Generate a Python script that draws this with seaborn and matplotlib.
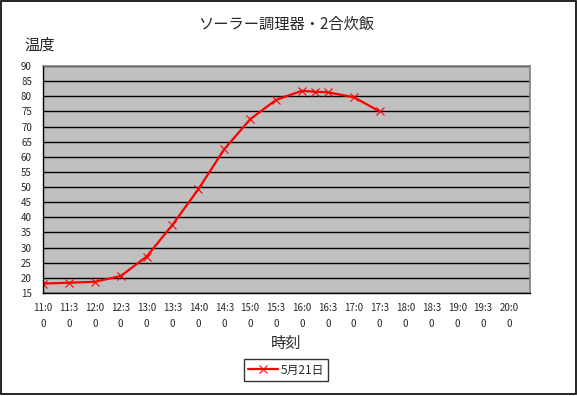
import matplotlib
matplotlib.use("Agg")
import matplotlib.pyplot as plt
from matplotlib.patches import Rectangle
import pandas as pd
import seaborn as sns

# データ
times = ["11:00", "11:30", "12:00", "12:30", "13:00", "13:30", "14:00", "14:30",
         "15:00", "15:30", "16:00", "16:15", "16:30", "17:00", "17:30"]
temps = [18.1, 18.4, 18.7, 20.6, 27.0, 37.5, 49.3, 62.5,
         72.4, 78.8, 81.8, 81.5, 81.3, 79.7, 75.0]
tick_times = ["11:00", "11:30", "12:00", "12:30", "13:00", "13:30", "14:00", "14:30",
              "15:00", "15:30", "16:00", "16:30", "17:00", "17:30", "18:00", "18:30",
              "19:00", "19:30", "20:00"]
yticks = list(range(15, 95, 5))
series_name = "5月21日"


def to_hours(t):
    h, m = t.split(":")
    return int(h) + int(m) / 60


df = pd.DataFrame({"hour": [to_hours(t) for t in times], "temp": temps})

sns.set_style("white")
plt.rcParams["font.family"] = ["Noto Sans CJK JP", "DejaVu Sans"]

fig = plt.figure(figsize=(5.77, 3.96), dpi=100)
ax = fig.add_axes([43 / 577, 1 - 293 / 396, 487 / 577, 227 / 396])
ax.set_facecolor("#C0C0C0")

sns.lineplot(data=df, x="hour", y="temp", color="red", linewidth=1.6,
             marker="x", markersize=5.5, markeredgewidth=0.8, markeredgecolor="red",
             label=series_name, ax=ax)

# 軸の設定
ax.set_xlim(11, 20.405)
ax.set_ylim(15, 90)
ax.set_yticks(yticks)
ax.set_yticklabels([str(v) for v in yticks], fontsize=7)
ax.set_xticks([to_hours(t) for t in tick_times])
ax.set_xticklabels([t[:4] + "\n" + t[4:] for t in tick_times], fontsize=7, linespacing=1.75)
ax.tick_params(axis="x", length=3, width=0.8, color="black", pad=4, direction="out")
ax.tick_params(axis="y", length=0, pad=8)
ax.set_xlabel("")
ax.set_ylabel("")

ax.yaxis.grid(True, color="black", linewidth=1)
ax.xaxis.grid(False)
for side in ["left", "bottom"]:
    ax.spines[side].set_color("black")
    ax.spines[side].set_linewidth(1)
for side in ["top", "right"]:
    ax.spines[side].set_color("#808080")
    ax.spines[side].set_linewidth(1.2)
    ax.spines[side].set_visible(True)

# タイトルとラベル
fig.text(286 / 577, 1 - 24 / 396, "ソーラー調理器・2合炊飯", ha="center", va="center", fontsize=11)
fig.text(40 / 577, 1 - 45 / 396, "温度", ha="center", va="center", fontsize=11)
fig.text(286 / 577, 1 - 343 / 396, "時刻", ha="center", va="center", fontsize=11)

leg = ax.legend(loc="center", bbox_to_anchor=(286 / 577, 1 - 370 / 396),
                bbox_transform=fig.transFigure, fontsize=8.5, frameon=True,
                fancybox=False, edgecolor="black", handlelength=2.5,
                borderpad=0.35, handletextpad=0.2)
leg.get_frame().set_linewidth(1)

# 外枠
fig.patches.append(Rectangle((0.001, 0.004), 0.997, 0.994, transform=fig.transFigure,
                             fill=False, edgecolor="black", linewidth=1.2))

fig.savefig("out.png", dpi=100)
